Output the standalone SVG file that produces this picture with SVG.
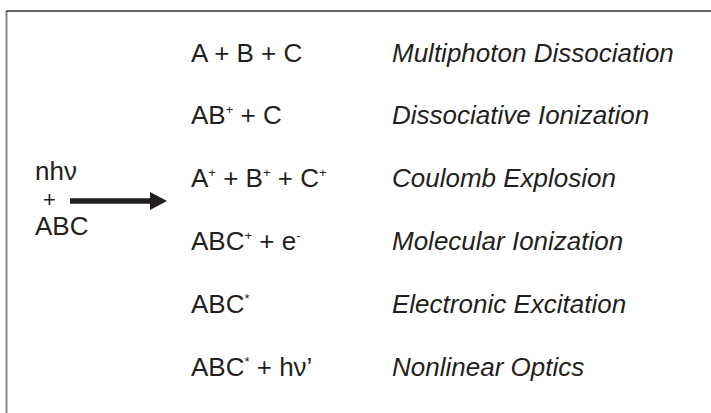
<svg xmlns="http://www.w3.org/2000/svg" width="711" height="413" viewBox="0 0 711 413">
<style>
.t{font-family:"Liberation Sans",Arial,sans-serif;font-size:26px;fill:#231f20}
.i{font-style:italic}
.s{font-size:13px}
.p{font-size:22px}
</style>
<defs>
<marker id="ah" markerWidth="17" markerHeight="18" refX="0" refY="9" orient="auto" markerUnits="userSpaceOnUse"><path d="M0,0 L17,9 L0,18 z" fill="#231f20"/></marker>
</defs>
<rect width="711" height="413" fill="#fff"/>
<g id="frame">
<line x1="6.5" y1="11" x2="6.5" y2="413" stroke="#888" stroke-width="2"/>
<line x1="6" y1="11" x2="711" y2="11" stroke="#333" stroke-width="1.5"/>
</g>
<g id="reactants">
<text class="t" x="35" y="180">nhν</text>
<text class="t p" x="43" y="207">+</text>
<text class="t" x="35" y="235">ABC</text>
</g>
<g id="connectors">
<line x1="70" y1="201" x2="150" y2="201" stroke="#231f20" stroke-width="5.5" marker-end="url(#ah)"/>
</g>
<g id="p1"><text class="t" x="191" y="62">A + B + C</text><text class="t i" x="392" y="62">Multiphoton Dissociation</text></g>
<g id="p2"><text class="t" x="191" y="124">AB<tspan class="s" dy="-10">+</tspan><tspan dy="10"> + C</tspan></text><text class="t i" x="392" y="124">Dissociative Ionization</text></g>
<g id="p3"><text class="t" x="191" y="187">A<tspan class="s" dy="-10">+</tspan><tspan dy="10"> + B</tspan><tspan class="s" dy="-10">+</tspan><tspan dy="10"> + C</tspan><tspan class="s" dy="-10">+</tspan></text><text class="t i" x="392" y="187">Coulomb Explosion</text></g>
<g id="p4"><text class="t" x="191" y="250">ABC<tspan class="s" dy="-10">+</tspan><tspan dy="10"> + e</tspan><tspan class="s" dy="-10">-</tspan></text><text class="t i" x="392" y="250">Molecular Ionization</text></g>
<g id="p5"><text class="t" x="191" y="313">ABC<tspan class="s" dy="-10">*</tspan></text><text class="t i" x="392" y="313">Electronic Excitation</text></g>
<g id="p6"><text class="t" x="191" y="376">ABC<tspan class="s" dy="-10">*</tspan><tspan dy="10"> + hν’</tspan></text><text class="t i" x="392" y="376">Nonlinear Optics</text></g>
</svg>
